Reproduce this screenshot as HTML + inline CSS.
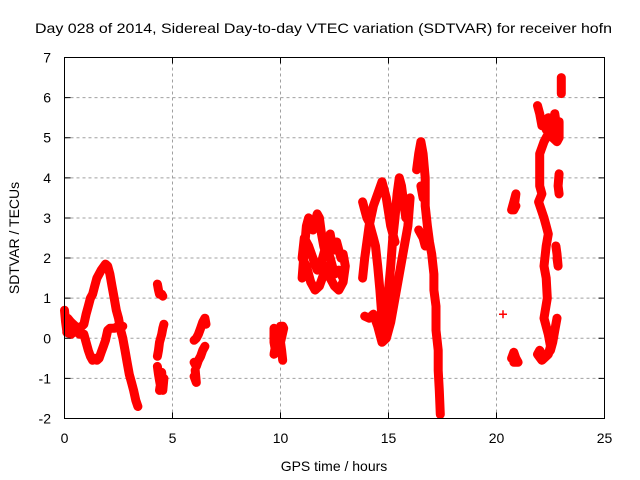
<!DOCTYPE html>
<html><head><meta charset="utf-8"><style>
html,body{margin:0;padding:0;background:#fff}
svg{display:block;font-family:"Liberation Sans",sans-serif}
</style></head><body>
<svg id="chart" width="640" height="480" viewBox="0 0 640 480">
<text x="35" y="33" font-size="14" textLength="577" lengthAdjust="spacingAndGlyphs">Day 028 of 2014, Sidereal Day-to-day VTEC variation (SDTVAR) for receiver hofn</text>
<g id="grid"></g>
<g id="marks"></g>
<rect x="64.5" y="57.5" width="540" height="361" fill="none" stroke="#000" stroke-width="1"/>
<g id="ticks"></g>
<text transform="translate(19,238) rotate(-90)" text-anchor="middle" font-size="14">SDTVAR / TECUs</text>
<text x="334" y="471" text-anchor="middle" font-size="14">GPS time / hours</text>
</svg>
<script>
const xTicks=[0,5,10,15,20,25];
const yTicks=[-2,-1,0,1,2,3,4,5,6,7];
const trackA_t=[0,0.05,0.1,0.15,0.3,0.5,0.7,0.9,1.0,1.1,1.2,1.3,1.4,1.5,1.7,1.9,2.0,2.1,2.2,2.3,2.4,2.5,2.6,2.7,2.8,2.9,3.0,3.1,3.2,3.3,3.4];
const trackA_v=[0.7,0.4,0.2,0.5,0.4,0.3,0.25,0.35,0.6,0.8,1.0,1.1,1.3,1.5,1.7,1.85,1.8,1.6,1.3,1.0,0.7,0.5,0.2,0.0,-0.3,-0.6,-0.9,-1.1,-1.3,-1.55,-1.7];
const trackB_t=[0.1,0.3,0.5,0.7,0.9,1.0,1.1,1.2,1.3,1.4,1.5,1.6,1.7,1.8,1.9,2.0,2.1,2.3,2.5,2.7];
const trackB_v=[0.15,0.1,0.2,0.1,0.1,-0.1,-0.3,-0.45,-0.55,-0.5,-0.55,-0.5,-0.35,-0.2,-0.05,0.2,0.25,0.25,0.3,0.3];
const trackC_t=[4.3,4.35,4.4,4.5,4.55,4.3,4.35,4.4,4.5,4.55,4.6,4.3,4.35,4.4,4.45,4.5,4.55,4.6,4.4,4.5,4.55];
const trackC_v=[1.35,1.2,1.1,1.1,1.05,-0.45,-0.3,-0.1,0.1,0.25,0.35,-0.7,-0.9,-1.05,-1.2,-0.85,-1.3,-1.0,-1.3,-0.95,-1.2];
const trackD_t=[6.0,6.1,6.2,6.3,6.4,6.5,6.55,6.0,6.1,6.2,6.3,6.4,6.5,6.0,6.1,6.05];
const trackD_v=[-0.05,0.0,0.1,0.25,0.4,0.5,0.35,-0.6,-0.7,-0.55,-0.45,-0.3,-0.2,-0.95,-1.1,-0.8];
const trackE_t=[9.7,9.7,9.75,9.7,10.0,10.1,10.15,10.0,10.05,10.1];
const trackE_v=[0.25,-0.1,-0.25,-0.4,0.3,0.3,0.25,-0.1,-0.3,-0.55];
const trackF_t=[11.0,11.1,11.2,11.3,11.4,11.5,11.6,11.7,11.8,11.9,12.0,12.1,12.2,12.3,12.4,12.5,12.6,12.7,12.8,12.9,13.0,12.9,12.7,12.5,12.3,12.2,12.0,11.8,11.6,11.4,11.2,11.0,11.1,11.3,11.5,11.7,11.9,12.1,12.3,12.5,12.7,12.9];
const trackF_v=[1.5,2.2,2.8,3.0,2.9,2.7,2.9,3.1,3.0,2.6,2.3,2.1,2.4,2.6,2.3,2.2,2.4,2.2,2.0,2.1,1.8,1.4,1.2,1.3,1.5,1.8,1.6,1.3,1.2,1.4,1.8,2.0,2.5,2.3,2.0,1.7,1.9,2.3,2.0,1.6,1.7,1.5];
const trackG_t=[13.8,13.9,14.0,14.1,14.2,14.3,14.4,14.5,14.6,14.7,14.8,14.9,15.0,15.1,15.2,15.3,15.4,15.5,15.6,15.7,15.8,15.9,16.0,15.9,15.7,15.5,15.3,15.1,14.9,14.7,14.5,14.3,14.1,13.9,13.8,13.9,14.1,14.3,14.5,14.7,14.9,15.1,15.3];
const trackG_v=[3.4,3.2,3.0,2.9,2.7,2.5,2.3,1.8,1.2,0.5,0.2,0.6,1.2,1.8,2.5,3.0,3.6,4.0,3.8,3.4,3.0,3.3,3.5,2.8,2.2,1.6,1.0,0.4,0.0,-0.1,0.3,0.6,0.5,0.55,1.5,2.0,2.8,3.3,3.6,3.9,3.5,2.8,2.4];
const trackH_t=[16.3,16.4,16.5,16.6,16.7,16.7,16.8,16.9,17.0,17.1,17.1,17.2,17.2,17.3,17.3,17.35,17.4,16.4,16.5,16.6,16.7,16.5,16.6];
const trackH_v=[4.2,4.6,4.9,4.6,4.0,3.3,2.8,2.4,2.1,1.6,1.2,0.8,0.2,-0.3,-0.8,-1.3,-1.9,2.7,2.6,2.5,2.3,3.8,3.5];
const trackI_t=[20.3,20.7,20.8,20.9,20.8,20.9,20.7,20.8,20.9,21.0,20.8];
const trackI_v=[0.6,3.2,3.4,3.6,3.2,3.3,-0.5,-0.35,-0.5,-0.6,-0.6];
const trackJ_t=[21.9,22.0,22.1,22.2,22.3,22.4,22.5,22.6,22.7,22.8,22.9,22.9,22.8,22.6,22.4,22.2,22.0,22.0,22.0,22.1,21.95,22.2,22.3,22.4,22.3,22.2,22.3,22.35,22.2,22.4,22.5,22.4,22.2,22.0,21.9,22.1,22.3,22.5,22.6,22.7,22.8,22.9,22.85,22.9,23.0,23.0];
const trackJ_v=[5.8,5.6,5.3,5.4,5.2,5.5,5.1,5.3,5.6,5.2,5.4,5.0,4.9,5.0,5.1,4.9,4.6,4.2,3.8,3.6,3.4,3.0,2.8,2.6,2.3,1.8,1.5,1.0,0.5,0.1,-0.2,-0.4,-0.5,-0.3,-0.4,-0.55,-0.45,-0.3,-0.1,0.2,0.5,4.1,3.8,3.6,6.5,6.1];
const trackK_t=[22.75,22.8,22.85,22.8];
const trackK_v=[2.3,2.1,1.8,2.0];
const tracks=[[trackA_t,trackA_v],[trackB_t,trackB_v],[trackC_t,trackC_v],[trackD_t,trackD_v],[trackE_t,trackE_v],[trackF_t,trackF_v],[trackG_t,trackG_v],[trackH_t,trackH_v],[trackI_t,trackI_v],[trackJ_t,trackJ_v],[trackK_t,trackK_v]];
const X0=64.5,X1=604.5,Y0=418.5,Y1=57.5;
const xs=h=>X0+(h-0)/(25-0)*(X1-X0);
const ys=v=>Y0-(v-(-2))/(7-(-2))*(Y0-Y1);
const NS="http://www.w3.org/2000/svg";
const grid=document.getElementById('grid'),ticks=document.getElementById('ticks'),marks=document.getElementById('marks');
function mk(tag,attrs,parent){const e=document.createElementNS(NS,tag);for(const k in attrs)e.setAttribute(k,attrs[k]);parent.appendChild(e);return e;}
xTicks.forEach(t=>{const x=xs(t);
 if(t>0&&t<25){const g=mk('line',{x1:x,x2:x,y1:Y0,y2:Y1,stroke:'#a0a0a0','stroke-dasharray':'3,3'},grid);
 
 }
 const tk=mk('path',{d:`M${x},${Y0}v-6M${x},${Y1}v6`,stroke:'#000'},ticks);
 
 
 const l=mk('text',{x:x,y:443,'text-anchor':'middle','font-size':'14'},ticks);l.textContent=t;
 
 });
yTicks.forEach(t=>{const y=ys(t);
 if(t>-2&&t<7){const g=mk('line',{x1:X0,x2:X1,y1:y,y2:y,stroke:'#a0a0a0','stroke-dasharray':'3,3'},grid);
 
 }
 const tk=mk('path',{d:`M${X0},${y}h6M${X1},${y}h-6`,stroke:'#000'},ticks);
 
 
 const l=mk('text',{x:51,y:y+5,'text-anchor':'end','font-size':'14'},ticks);l.textContent=t;
 
 });
tracks.forEach(([T,V])=>{
 let band='';
 T.forEach((t,i)=>{const x=xs(t).toFixed(1),y=ys(V[i]).toFixed(1);
  const brk=i===0||Math.abs(V[i]-V[i-1])>0.9||Math.abs(t-T[i-1])>0.4;
  band+=(brk?'M':'L')+x+','+y;});
 const b=mk('path',{d:band,stroke:'#ff0000','stroke-width':'9',fill:'none','stroke-linejoin':'round','stroke-linecap':'round'},marks);
 
 
 let d='';T.forEach((t,i)=>{d+=`M${(xs(t)-4).toFixed(1)},${ys(V[i]).toFixed(1)}h8M${xs(t).toFixed(1)},${(ys(V[i])-4).toFixed(1)}v8`;});
 const p=mk('path',{d:d,stroke:'#ff0000','stroke-width':'1.5',fill:'none'},marks);
 
 
});
</script>
</body></html>
